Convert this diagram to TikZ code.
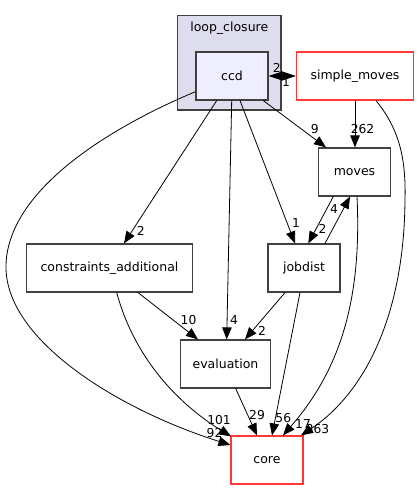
\documentclass[tikz,border=0pt]{standalone}
\usepackage{fontspec}
\setmainfont{DejaVu Sans}
\usetikzlibrary{arrows.meta}
\definecolor{bord}{HTML}{404040}
\definecolor{clus}{HTML}{DDDDEE}
\definecolor{ccdfill}{HTML}{EEEEFF}
\definecolor{redb}{RGB}{255,55,55}
\tikzset{
  box/.style={draw=bord, line width=1.2pt, fill=white, rectangle, minimum height=48pt, inner sep=0pt, font=\fontsize{12.5}{14}\selectfont},
  redbox/.style={box, draw=redb},
  edge/.style={draw=black, line width=0.8pt, -{Triangle[length=12pt,width=9.5pt]}},
  lab/.style={inner sep=0pt, font=\fontsize{12.3}{14}\selectfont}
}
\begin{document}
\begin{tikzpicture}[x=1pt,y=-1pt]
\useasboundingbox (0,0) rectangle (419,489);
% cluster
\node[draw=bord, line width=1.2pt, fill=clus, minimum width=103.5pt, minimum height=94.5pt, inner sep=0pt] (cluster) at (229.25,62.75) {};
\node[inner sep=0pt, font=\fontsize{12.5}{14}\selectfont] (clustertitle) at (229.25,28) {loop\_closure};
% nodes
\node[box, fill=ccdfill, minimum width=72pt] (ccd) at (232,76) {ccd};
\node[redbox, minimum width=117pt] (sm) at (355,76) {simple\_moves};
\node[box, minimum width=72pt] (moves) at (354.5,172) {moves};
\node[box, minimum width=166pt] (ca) at (109.5,268) {constraints\_additional};
\node[box, minimum width=72pt] (jobdist) at (304,268) {jobdist};
\node[box, minimum width=90pt] (eval) at (225.5,364) {evaluation};
\node[redbox, minimum width=72pt] (core) at (267,460) {core};
% edges
\draw[edge, {Triangle[length=14pt,width=9pt]}-{Triangle[length=14pt,width=9pt]}] (ccd.east) -- (sm.west);
\draw[edge] ([yshift=-15.7pt]ccd.west) .. controls +(-86,36) and +(2,-75) .. (6,265) .. controls +(-2,75) and +(-111,-35) .. ([yshift=15pt]core.west);
\draw[edge] ([xshift=-15.3pt]ccd.south) -- ([xshift=14.5pt]ca.north);
\draw[edge] ([xshift=-0.3pt]ccd.south) -- ([xshift=1.2pt]eval.north);
\draw[edge] ([xshift=8pt]ccd.south) -- ([xshift=-9pt]jobdist.north);
\draw[edge] ([xshift=31.3pt]ccd.south) -- ([xshift=-28.5pt]moves.north);
\draw[edge] ([xshift=0pt]sm.south) -- ([xshift=0.5pt]moves.north);
\draw[edge] ([xshift=21pt]sm.south) .. controls (400,130) and (406,160) .. (405,200) .. controls (404,320) and (362,395) .. ([xshift=34pt]core.north);
\draw[edge] ([xshift=-21.2pt]moves.south) -- ([xshift=4.3pt]jobdist.north);
\draw[edge] ([xshift=21pt]jobdist.north) -- ([xshift=-4.5pt]moves.south);
\draw[edge] ([xshift=2.5pt]moves.south) .. controls (362,300) and (340,370) .. ([xshift=16pt]core.north);
\draw[edge] ([xshift=-19pt]jobdist.south) -- ([xshift=19.5pt]eval.north);
\draw[edge] ([xshift=-4pt]jobdist.south) -- ([xshift=5pt]core.north);
\draw[edge] ([xshift=28.5pt]ca.south) -- ([xshift=-27.5pt]eval.north);
\draw[edge] ([xshift=7.2pt]ca.south) .. controls (135,360) and (180,405) .. ([xshift=-36pt,yshift=-1pt]core.north);
\draw[edge] ([xshift=10.2pt]eval.south) -- ([xshift=-10pt]core.north);
% labels
\node[lab] (l1) at (276.7,67.5) {2};
\node[lab] (l2) at (286,82.5) {1};
\node[lab] (l3) at (314.7,129) {9};
\node[lab] (l4) at (362.5,129) {262};
\node[lab] (l5) at (334,209) {4};
\node[lab] (l6) at (322.5,229) {2};
\node[lab] (l7) at (296,223) {1};
\node[lab] (l8) at (140.7,231) {2};
\node[lab] (l9) at (188.5,320.5) {10};
\node[lab] (l10) at (234,320.5) {4};
\node[lab] (l11) at (262,330.5) {2};
\node[lab] (l12) at (257,414.7) {29};
\node[lab] (l13) at (283.3,418.3) {56};
\node[lab] (l14) at (303,424) {17};
\node[lab] (l15) at (317.5,429.5) {363};
\node[lab] (l16) at (219,420.5) {101};
\node[lab] (l17) at (214.5,433) {92};
\end{tikzpicture}
\end{document}
